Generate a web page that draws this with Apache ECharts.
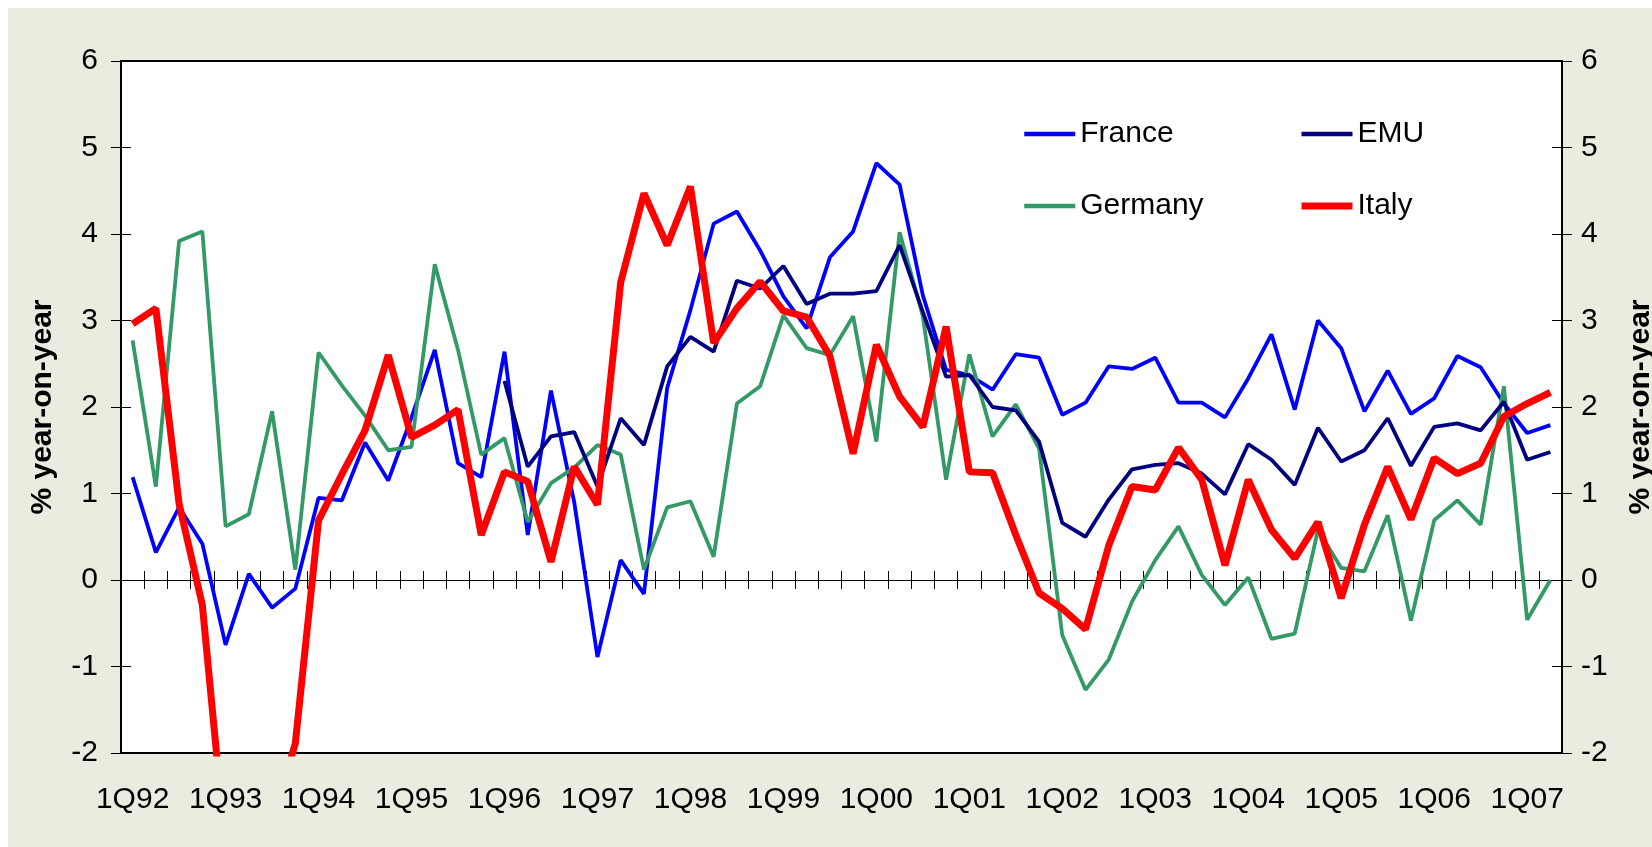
<!DOCTYPE html>
<html>
<head>
<meta charset="utf-8">
<script src="https://cdn.jsdelivr.net/npm/echarts@6/dist/echarts.min.js"></script>
<style>
  html, body { margin: 0; padding: 0; background: #fff; }
  #chart { position: absolute; left: 8px; top: 8px; width: 1644px; height: 839px; }
</style>
</head>
<body>
<div id="chart"></div>
<script>
const quarters = [
  '1Q92','2Q92','3Q92','4Q92','1Q93','2Q93','3Q93','4Q93',
  '1Q94','2Q94','3Q94','4Q94','1Q95','2Q95','3Q95','4Q95',
  '1Q96','2Q96','3Q96','4Q96','1Q97','2Q97','3Q97','4Q97',
  '1Q98','2Q98','3Q98','4Q98','1Q99','2Q99','3Q99','4Q99',
  '1Q00','2Q00','3Q00','4Q00','1Q01','2Q01','3Q01','4Q01',
  '1Q02','2Q02','3Q02','4Q02','1Q03','2Q03','3Q03','4Q03',
  '1Q04','2Q04','3Q04','4Q04','1Q05','2Q05','3Q05','4Q05',
  '1Q06','2Q06','3Q06','4Q06','1Q07','2Q07'
]

const france = [1.19, 0.32, 0.84, 0.42, -0.75, 0.07, -0.32, -0.10, 0.95, 0.92,
  1.59, 1.15, 1.88, 2.66, 1.35, 1.19, 2.64, 0.52, 2.19, 0.9,
  -0.89, 0.23, -0.16, 2.22, 3.12, 4.12, 4.26, 3.81, 3.28, 2.91,
  3.73, 4.03, 4.82, 4.57, 3.29, 2.43, 2.37, 2.20, 2.61, 2.57,
  1.91, 2.05, 2.47, 2.44, 2.57, 2.05, 2.05, 1.88, 2.33, 2.84,
  1.97, 3.00, 2.68, 1.95, 2.42, 1.92, 2.10, 2.59, 2.46, 2.04,
  1.70, 1.79]

const germany = [2.77, 1.08, 3.92, 4.03, 0.62, 0.76, 1.95, 0.12, 2.63, 2.25,
  1.90, 1.50, 1.54, 3.65, 2.66, 1.45, 1.64, 0.67, 1.12, 1.30,
  1.56, 1.45, 0.12, 0.84, 0.91, 0.27, 2.04, 2.24, 3.06, 2.68,
  2.60, 3.05, 1.60, 4.02, 3.05, 1.16, 2.61, 1.66, 2.03, 1.52,
  -0.64, -1.27, -0.92, -0.25, 0.23, 0.62, 0.06, -0.29, 0.03, -0.68,
  -0.62, 0.58, 0.14, 0.10, 0.75, -0.47, 0.69, 0.92, 0.64, 2.24,
  -0.46, 0.00]

// EMU series starts in 1Q96
const emu = [null, null, null, null, null, null, null, null, null, null,
  null, null, null, null, null, null, 2.30, 1.31, 1.66, 1.71,
  1.08, 1.87, 1.56, 2.47, 2.81, 2.64, 3.46, 3.37, 3.63, 3.19,
  3.31, 3.31, 3.34, 3.87, 3.10, 2.35, 2.37, 2.00, 1.96, 1.60,
  0.66, 0.50, 0.93, 1.28, 1.33, 1.35, 1.23, 0.99, 1.57, 1.39,
  1.10, 1.76, 1.37, 1.50, 1.87, 1.32, 1.77, 1.81, 1.73, 2.06,
  1.39, 1.48]

const italy = [2.96, 3.14, 0.88, -0.29, -3.1, -3.4, -2.8, -1.89, 0.69, 1.22,
  1.73, 2.60, 1.65, 1.79, 1.97, 0.52, 1.25, 1.14, 0.21, 1.31,
  0.87, 3.44, 4.47, 3.87, 4.55, 2.74, 3.14, 3.45, 3.11, 3.04,
  2.59, 1.46, 2.72, 2.12, 1.77, 2.93, 1.25, 1.24, 0.52, -0.15,
  -0.33, -0.57, 0.40, 1.08, 1.04, 1.53, 1.16, 0.17, 1.16, 0.58,
  0.25, 0.67, -0.21, 0.64, 1.31, 0.70, 1.41, 1.23, 1.35, 1.89,
  2.04, 2.17]

const font = 'Arial, "Liberation Sans", sans-serif'
const axisName = '% year-on-year'
const colors = { France: '#0000FF', Germany: '#339966', EMU: '#000080', Italy: '#FF0000' }

let chart = echarts.init(document.getElementById('chart'))

let valueAxis = (pos, withLabels, inside, gap, labelMargin) => ({
  type: 'value',
  position: pos,
  min: -2,
  max: 6,
  interval: 1,
  axisLine: { show: false },
  splitLine: { show: false },
  axisTick: { show: true, inside: inside, length: 10, lineStyle: { color: '#000', width: 1 } },
  axisLabel: { show: withLabels, color: '#000', fontSize: 30, fontFamily: font, margin: labelMargin || 23 },
  name: withLabels ? axisName : '',
  nameLocation: 'middle',
  nameRotate: 90,
  nameGap: gap || 60,
  nameTextStyle: { color: '#000', fontSize: 30, fontWeight: 'bold', fontFamily: font }
})

let zeroAxis = (pos) => ({
  type: 'category',
  data: quarters,
  position: pos,
  boundaryGap: true,
  axisLine: { show: true, onZero: true, onZeroAxisIndex: 0, lineStyle: { color: '#000', width: 1 } },
  axisTick: { show: true, interval: 0, length: 9, lineStyle: { color: '#000', width: 1 } },
  axisLabel: { show: false },
  splitLine: { show: false }
})

let legendItem = (name, w) => ({ name: name, lineStyle: { color: colors[name], width: w } })

let legendBox = (left, items) => ({
  orient: 'vertical',
  left: left,
  top: 111,
  padding: 0,
  data: items,
  itemWidth: 51,
  itemHeight: 30,
  itemGap: 42,
  itemStyle: { opacity: 0 },
  textStyle: { color: '#000', fontSize: 30, fontFamily: font, lineHeight: 30 }
})

let option = {
  backgroundColor: '#ECEBE0',
  animation: false,
  grid: {
    left: 113,
    top: 53,
    right: 90,
    bottom: 94,
    outerBoundsMode: 'none',
    containLabel: false,
    show: true,
    backgroundColor: '#fff',
    borderColor: '#000',
    borderWidth: 2
  },
  legend: [
    legendBox(1014, [legendItem('France', 4.5), legendItem('Germany', 4.5)]),
    legendBox(1290, [legendItem('EMU', 4.5), legendItem('Italy', 7)])
  ],
  xAxis: [
    {
      type: 'category',
      data: quarters,
      position: 'bottom',
      boundaryGap: true,
      axisLine: { show: false, onZero: false },
      axisTick: { show: false },
      axisLabel: { interval: 3, color: '#000', fontSize: 30, fontFamily: font, margin: 32 },
      splitLine: { show: false }
    },
    zeroAxis('bottom'),
    zeroAxis('top')
  ],
  yAxis: [
    valueAxis('left', true, false, 63, 23),
    valueAxis('right', true, false, 64, 19),
    valueAxis('left', false, true),
    valueAxis('right', false, true)
  ],
  series: [
    {
      name: 'France', type: 'line', data: france, symbol: 'none',
      lineStyle: { color: colors.France, width: 3.8 }, itemStyle: { color: colors.France }, z: 2
    },
    {
      name: 'Germany', type: 'line', data: germany, symbol: 'none',
      lineStyle: { color: colors.Germany, width: 3.8 }, itemStyle: { color: colors.Germany }, z: 3
    },
    {
      name: 'EMU', type: 'line', data: emu, symbol: 'none',
      lineStyle: { color: colors.EMU, width: 3.8 }, itemStyle: { color: colors.EMU }, z: 4
    },
    {
      name: 'Italy', type: 'line', data: italy, symbol: 'none',
      lineStyle: { color: colors.Italy, width: 7 }, itemStyle: { color: colors.Italy }, z: 5
    }
  ]
}

chart.setOption(option)
</script>
</body>
</html>
